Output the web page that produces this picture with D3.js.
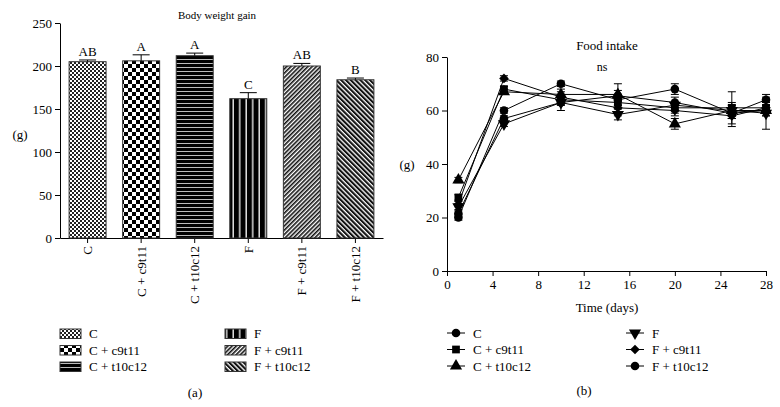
<!DOCTYPE html>
<html><head><meta charset="utf-8">
<script src="https://cdn.jsdelivr.net/npm/d3@7"></script>
<style>
body{margin:0;background:#fff;}
svg{display:block;}
svg text{font-family:"Liberation Serif","DejaVu Serif",serif !important;fill:#000;}
</style></head>
<body>
<svg id="chart" width="780" height="407"></svg>
<script>
// ---------- data ----------
const groups = ["C", "C + c9t11", "C + t10c12", "F", "F + c9t11", "F + t10c12"];
const weightGain = [205, 206, 212, 162, 200, 184];
const weightErr = [2, 7, 3, 7, 3, 2];
const weightLetters = ["AB", "A", "A", "C", "AB", "B"];
const weightTicks = [0, 50, 100, 150, 200, 250];

const days = [1, 5, 10, 15, 20, 25, 28];
const intakeC       = [20, 60, 70, 64, 68, 59, 64];
const intakeCc9t11  = [27.5, 68, 64, 63, 61, 61, 61];
const intakeCt10c12 = [34, 67, 66, 66, 55, 60, 60];
const intakeF       = [24, 55, 63, 58.5, 62, 60, 59];
const intakeFc9t11  = [25, 72, 65, 61, 60, 58, 61];
const intakeFt10c12 = [21.5, 57, 63, 65.5, 63, 59, 60];
const errC       = [1, 1, 1, 2, 2, 2, 2];
const errCc9t11  = [1, 1, 4, 2, 2, 6, 2];
const errCt10c12 = [1, 1, 1, 4, 2, 3, 2];
const errF       = [1, 1, 1, 2, 1, 2, 6];
const errFc9t11  = [1, 1, 1, 3, 2, 4, 2];
const errFt10c12 = [1, 1, 1, 2, 2, 2, 2];
const intakeTicksY = [0, 20, 40, 60, 80];
const intakeTicksX = [0, 4, 8, 12, 16, 20, 24, 28];

const series = [
  {name: groups[0], values: intakeC, err: errC, sym: "circle"},
  {name: groups[1], values: intakeCc9t11, err: errCc9t11, sym: "square"},
  {name: groups[2], values: intakeCt10c12, err: errCt10c12, sym: "triangle"},
  {name: groups[3], values: intakeF, err: errF, sym: "triangleDown"},
  {name: groups[4], values: intakeFc9t11, err: errFc9t11, sym: "diamond"},
  {name: groups[5], values: intakeFt10c12, err: errFt10c12, sym: "circle"}
];

const svg = d3.select("#chart");
const defs = svg.append("defs");

// ---------- patterns ----------
function pat(id, w, h, build, transform) {
  const p = defs.append("pattern").attr("id", id).attr("patternUnits", "userSpaceOnUse")
    .attr("width", w).attr("height", h);
  if (transform) p.attr("patternTransform", transform);
  build(p);
}
pat("p0", 4, 4, p => {
  p.append("rect").attr("width", 4).attr("height", 4).attr("fill", "#fff");
  p.append("rect").attr("width", 2).attr("height", 2).attr("fill", "#222");
  p.append("rect").attr("x", 2).attr("y", 2).attr("width", 2).attr("height", 2).attr("fill", "#222");
});
pat("p1", 8, 8, p => {
  p.append("rect").attr("width", 8).attr("height", 8).attr("fill", "#fff");
  p.append("rect").attr("width", 4).attr("height", 4).attr("fill", "#000");
  p.append("rect").attr("x", 4).attr("y", 4).attr("width", 4).attr("height", 4).attr("fill", "#000");
});
pat("p2", 4, 4, p => {
  p.append("rect").attr("width", 4).attr("height", 4).attr("fill", "#000");
  p.append("rect").attr("y", 3).attr("width", 4).attr("height", 1).attr("fill", "#bbb");
});
pat("p3", 6.5, 4, p => {
  p.append("rect").attr("width", 6.5).attr("height", 4).attr("fill", "#000");
  p.append("rect").attr("x", 5).attr("width", 1.5).attr("height", 4).attr("fill", "#ddd");
});
pat("p4", 3, 3, p => {
  p.append("rect").attr("width", 3).attr("height", 3).attr("fill", "#fff");
  p.append("rect").attr("width", 1.6).attr("height", 3).attr("fill", "#111");
}, "rotate(45)");
pat("p5", 3.4, 3.4, p => {
  p.append("rect").attr("width", 3.4).attr("height", 3.4).attr("fill", "#fff");
  p.append("rect").attr("width", 2.1).attr("height", 3.4).attr("fill", "#111");
}, "rotate(-45)");
const patIds = ["p0", "p1", "p2", "p3", "p4", "p5"];

// ---------- left chart: body weight gain ----------
const xB = d3.scaleBand().domain(groups).range([60, 383]).paddingInner(0.31).paddingOuter(0.17);
const yB = d3.scaleLinear().domain([0, 250]).range([238, 23]);

const gL = svg.append("g");
const yAxL = gL.append("g").attr("transform", "translate(60,0)")
  .call(d3.axisLeft(yB).tickValues(weightTicks).tickSize(5).tickSizeOuter(0));
const xAxL = gL.append("g").attr("transform", "translate(0,238)")
  .call(d3.axisBottom(xB).tickSize(5).tickSizeOuter(0));
[yAxL, xAxL].forEach(a => {
  a.attr("font-family", null).attr("font-size", null);
  a.selectAll("path,line").attr("stroke", "#000").attr("stroke-width", 1);
  a.selectAll("text").attr("font-size", 13).attr("fill", "#000");
});
yAxL.selectAll("text").attr("x", -8);
xAxL.selectAll("text")
  .attr("transform", "rotate(-90)")
  .attr("text-anchor", "end").attr("dy", "0.35em").attr("x", -8).attr("y", 0);

gL.selectAll("rect.bar").data(groups).join("rect").attr("class", "bar")
  .attr("x", d => xB(d)).attr("width", xB.bandwidth())
  .attr("y", (d, i) => yB(weightGain[i])).attr("height", (d, i) => yB(0) - yB(weightGain[i]))
  .attr("fill", (d, i) => `url(#${patIds[i]})`).attr("stroke", "#333").attr("stroke-width", 1);

groups.forEach((g, i) => {
  const cx = xB(g) + xB.bandwidth() / 2;
  const top = yB(weightGain[i] + weightErr[i]);
  gL.append("line").attr("x1", cx).attr("x2", cx).attr("y1", yB(weightGain[i])).attr("y2", top).attr("stroke", "#000");
  gL.append("line").attr("x1", cx - 8.5).attr("x2", cx + 8.5).attr("y1", top).attr("y2", top).attr("stroke", "#000");
  gL.append("text").attr("x", cx).attr("y", top - 4).attr("text-anchor", "middle")
    .attr("font-size", 13).text(weightLetters[i]);
});
gL.append("text").attr("x", 217).attr("y", 19).attr("text-anchor", "middle").attr("font-size", 11).text("Body weight gain");
gL.append("text").attr("x", 20).attr("y", 139).attr("text-anchor", "middle").attr("font-size", 13).text("(g)");

// legend (a)
groups.forEach((g, i) => {
  const col = Math.floor(i / 3), row = i % 3;
  const x0 = col ? 225 : 60, y0 = 329 + row * 16.5;
  gL.append("rect").attr("x", x0).attr("y", y0).attr("width", 21).attr("height", 9.5)
    .attr("fill", `url(#${patIds[i]})`).attr("stroke", "#333");
  gL.append("text").attr("x", x0 + 29).attr("y", y0 + 9).attr("font-size", 13).text(g);
});
gL.append("text").attr("x", 195).attr("y", 397).attr("text-anchor", "middle").attr("font-size", 13).text("(a)");

// ---------- right chart: food intake ----------
const xT = d3.scaleLinear().domain([0, 28]).range([447, 766]);
const yT = d3.scaleLinear().domain([0, 80]).range([271, 57]);
const gR = svg.append("g");
const yAxR = gR.append("g").attr("transform", "translate(447,0)")
  .call(d3.axisLeft(yT).tickValues(intakeTicksY).tickSize(5).tickSizeOuter(0));
const xAxR = gR.append("g").attr("transform", "translate(0,271)")
  .call(d3.axisBottom(xT).tickValues(intakeTicksX).tickSize(5).tickSizeOuter(0));
[yAxR, xAxR].forEach(a => {
  a.attr("font-family", null).attr("font-size", null);
  a.selectAll("path,line").attr("stroke", "#000").attr("stroke-width", 1);
  a.selectAll("text").attr("font-size", 13).attr("fill", "#000");
});
yAxR.selectAll("text").attr("x", -8);
xAxR.selectAll("text").attr("y", 9);

const symMap = {
  circle: d3.symbol(d3.symbolCircle, 58)(),
  square: d3.symbol(d3.symbolSquare, 60)(),
  triangle: d3.symbol(d3.symbolTriangle, 64)(),
  triangleDown: d3.symbol(d3.symbolTriangle, 64)(),
  diamond: d3.symbol(d3.symbolSquare, 46)()
};
function drawSym(g, sym, x, y) {
  const rot = sym === "triangleDown" ? " rotate(180)" : sym === "diamond" ? " rotate(45)" : "";
  g.append("path").attr("d", symMap[sym]).attr("fill", "#000")
    .attr("transform", `translate(${x},${y})` + rot);
}
const line = d3.line().x((d, i) => xT(days[i])).y(d => yT(d));
series.forEach(s => {
  gR.append("path").attr("d", line(s.values)).attr("fill", "none").attr("stroke", "#000").attr("stroke-width", 1);
  s.values.forEach((v, i) => {
    const x = xT(days[i]);
    const e = s.err[i];
    gR.append("line").attr("x1", x).attr("x2", x).attr("y1", yT(v - e)).attr("y2", yT(v + e)).attr("stroke", "#000");
    [v - e, v + e].forEach(t => gR.append("line").attr("x1", x - 4).attr("x2", x + 4)
      .attr("y1", yT(t)).attr("y2", yT(t)).attr("stroke", "#000"));
  });
});
series.forEach(s => s.values.forEach((v, i) => drawSym(gR, s.sym, xT(days[i]), yT(v))));

gR.append("text").attr("x", 607).attr("y", 50).attr("text-anchor", "middle").attr("font-size", 13).text("Food intake");
gR.append("text").attr("x", 602).attr("y", 71).attr("text-anchor", "middle").attr("font-size", 12).text("ns");
gR.append("text").attr("x", 607).attr("y", 312).attr("text-anchor", "middle").attr("font-size", 13).text("Time (days)");
gR.append("text").attr("x", 407).attr("y", 169).attr("text-anchor", "middle").attr("font-size", 13).text("(g)");

series.forEach((s, i) => {
  const col = Math.floor(i / 3), row = i % 3;
  const x0 = col ? 626 : 447, y0 = 333 + row * 16.5;
  gR.append("line").attr("x1", x0).attr("x2", x0 + 18).attr("y1", y0).attr("y2", y0).attr("stroke", "#000");
  drawSym(gR, s.sym, x0 + 9, y0);
  gR.append("text").attr("x", x0 + 26).attr("y", y0 + 4.5).attr("font-size", 13).text(s.name);
});
gR.append("text").attr("x", 584).attr("y", 395).attr("text-anchor", "middle").attr("font-size", 13).text("(b)");
</script>
</body></html>
